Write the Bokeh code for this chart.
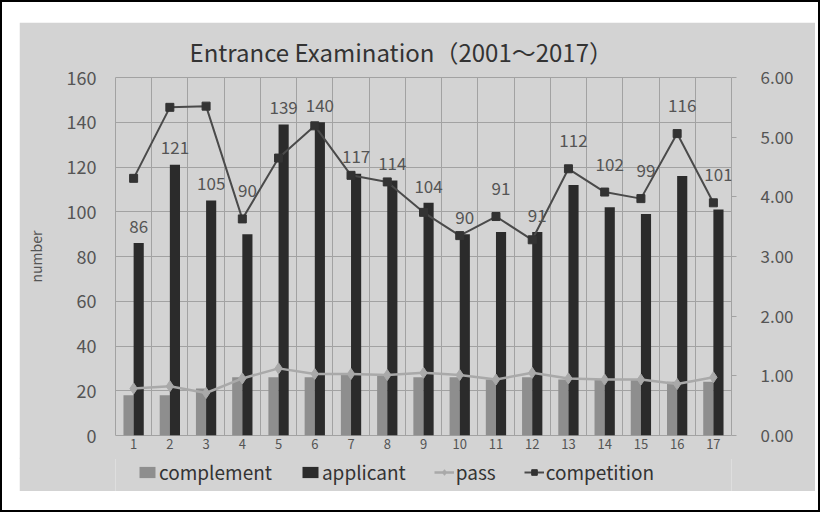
from bokeh.plotting import figure
from bokeh.models import (Range1d, LinearAxis, FixedTicker, Legend, LegendItem,
                          ColumnDataSource, NumeralTickFormatter)
from bokeh.layouts import column
from bokeh.core.properties import value
from bokeh.transform import dodge
from bokeh.embed import file_html
from bokeh.resources import INLINE

# ---------------- data ----------------
categories = [1, 2, 3, 4, 5, 6, 7, 8, 9, 10, 11, 12, 13, 14, 15, 16, 17]
tick_labels = ["1", "2", "3", "4", "5", "6", "7", "8", "9", "10", "11", "12",
               "13", "14", "15", "16", "17"]
complement = [18, 18, 21, 26, 26, 26, 27, 27, 26, 26, 25, 26, 25, 25, 25, 24, 24]
applicant = [86, 121, 105, 90, 139, 140, 117, 114, 104, 90, 91, 91, 112, 102, 99, 116, 101]
passed = [21, 22, 19, 25.5, 30, 27.5, 27.5, 27, 28, 27, 25, 28, 25.5, 25, 25, 23, 26]
competition = [4.31, 5.50, 5.52, 3.63, 4.65, 5.19, 4.36, 4.25, 3.74, 3.35, 3.67,
               3.28, 4.47, 4.08, 3.97, 5.06, 3.90]
series_names = ["complement", "applicant", "pass", "competition"]

LEFT_MAX, RIGHT_MAX = 160, 6

# label anchor: above the bar, or above the competition marker when it sits just above the bar
label_y = []
for a, c in zip(applicant, competition):
    cs = c * LEFT_MAX / RIGHT_MAX
    if a <= cs <= a + 20:
        label_y.append(cs + 12.5)
    else:
        label_y.append(a + 7.5)

src = ColumnDataSource(dict(x=categories, complement=complement, applicant=applicant,
                            passed=passed, competition=competition,
                            label_y=label_y, label=[str(v) for v in applicant]))

FONT = "Noto Sans CJK JP"
BG = "#d3d3d3"
GRID = "#a2a2a2"
TXT = "#555555"
C_COMP, C_APP, C_PASS, C_LINE, C_MARK = "#8e8e8e", "#2b2b2b", "#a9a9a9", "#4a4a4a", "#333333"

# ---------------- main chart ----------------
p = figure(width=796, height=437, output_backend="svg", toolbar_location=None,
           x_range=Range1d(0.5, 17.5), y_range=Range1d(0, LEFT_MAX),
           min_border_left=96, min_border_right=84, min_border_top=54,
           min_border_bottom=24)
p.margin = (20, 3, 0, 17)
p.background_fill_color = BG
p.border_fill_color = BG
p.outline_line_color = GRID
p.outline_line_width = 1

p.title.text = "Entrance Examination（2001～2017）"
p.title.align = "left"
p.title.offset = 74
p.title.standoff = 18
p.title.text_font = FONT
p.title.text_font_size = "24px"
p.title.text_font_style = "normal"
p.title.text_color = "#333333"

p.extra_y_ranges = {"comp": Range1d(0, RIGHT_MAX)}

p.ygrid.grid_line_color = GRID
p.ygrid.grid_line_width = 1
p.xgrid.ticker = FixedTicker(ticks=[c - 0.5 for c in categories] + [categories[-1] + 0.5])
p.xgrid.grid_line_color = GRID
p.xgrid.grid_line_width = 1

p.vbar(x=dodge("x", -0.14, range=p.x_range), top="complement", width=0.28,
       source=src, fill_color=C_COMP, line_color=None)
p.vbar(x=dodge("x", 0.14, range=p.x_range), top="applicant", width=0.28,
       source=src, fill_color=C_APP, line_color=None)

p.line("x", "passed", source=src, line_color=C_PASS, line_width=2.5)
p.scatter("x", "passed", source=src, marker="diamond", size=11,
          fill_color=C_PASS, line_color=C_PASS)

p.line("x", "competition", source=src, y_range_name="comp",
       line_color=C_LINE, line_width=2)
p.scatter("x", "competition", source=src, y_range_name="comp", marker="square",
          size=8, fill_color=C_MARK, line_color=C_MARK)

p.text(x=dodge("x", 0.14, range=p.x_range), y="label_y", text="label", source=src,
       text_font=value(FONT), text_font_size="17px", text_color=TXT,
       text_align="center", text_baseline="middle")

yl = p.yaxis[0]
yl.ticker = FixedTicker(ticks=[0, 20, 40, 60, 80, 100, 120, 140, 160])
yl.axis_label = "number"
yl.axis_label_text_font = FONT
yl.axis_label_text_font_size = "14px"
yl.axis_label_text_font_style = "normal"
yl.axis_label_text_color = TXT
yl.axis_label_standoff = 18
yl.major_label_text_font = FONT
yl.major_label_text_font_size = "18px"
yl.major_label_text_color = TXT
yl.major_label_standoff = 19
yl.major_tick_out = 0
yl.major_tick_in = 0
yl.axis_line_color = None
yl.major_tick_line_color = None
yl.minor_tick_line_color = None

yr = LinearAxis(y_range_name="comp", ticker=FixedTicker(ticks=[0, 1, 2, 3, 4, 5, 6]),
                formatter=NumeralTickFormatter(format="0.00"))
yr.major_label_text_font = FONT
yr.major_label_text_font_size = "17px"
yr.major_label_text_color = TXT
yr.major_label_standoff = 24
yr.axis_line_color = None
yr.major_tick_line_color = GRID
yr.major_tick_out = 5
yr.major_tick_in = 0
yr.minor_tick_line_color = None
p.add_layout(yr, "right")

xa = p.xaxis[0]
xa.ticker = FixedTicker(ticks=categories)
xa.major_label_overrides = {c: t for c, t in zip(categories, tick_labels)}
xa.major_label_text_font = FONT
xa.major_label_text_font_size = "13px"
xa.major_label_text_color = TXT
xa.major_label_standoff = 3
xa.major_tick_out = 0
xa.major_tick_in = 0
xa.axis_line_color = None
xa.major_tick_line_color = None
xa.minor_tick_line_color = None

# ---------------- legend strip ----------------
lg = figure(width=796, height=34, output_backend="svg", toolbar_location=None,
            x_range=Range1d(0, 1), y_range=Range1d(0, 1),
            x_axis_location=None, y_axis_location=None, min_border=0)
lg.title = None
lg.margin = (-2, 3, 19, 17)
lg.background_fill_color = BG
lg.border_fill_color = BG
lg.outline_line_color = None
lg.grid.visible = False

# swatch-only renderers, placed outside the visible range of the strip
k_comp = lg.vbar(x=[-5], top=[-5], width=0.1, fill_color=C_COMP, line_color=None)
k_app = lg.vbar(x=[-5], top=[-5], width=0.1, fill_color=C_APP, line_color=None)
k_pl = lg.line(x=[-5, -4], y=[-5, -5], line_color=C_PASS, line_width=2.5)
k_pm = lg.scatter(x=[-5], y=[-5], marker="diamond", size=11, fill_color=C_PASS, line_color=C_PASS)
k_cl = lg.line(x=[-5, -4], y=[-5, -5], line_color=C_LINE, line_width=2)
k_cm = lg.scatter(x=[-5], y=[-5], marker="square", size=8, fill_color=C_MARK, line_color=C_MARK)

legend = Legend(items=[
    LegendItem(label=series_names[0], renderers=[k_comp]),
    LegendItem(label=series_names[1], renderers=[k_app]),
    LegendItem(label=series_names[2], renderers=[k_pl, k_pm]),
    LegendItem(label=series_names[3], renderers=[k_cl, k_cm]),
], orientation="horizontal", location=(22, 6))
legend.label_text_font = FONT
legend.label_text_font_size = "19px"
legend.label_text_color = "#333333"
legend.glyph_width = 20
legend.glyph_height = 14
legend.label_standoff = 2
legend.spacing = 28
legend.padding = 0
legend.margin = 0
legend.background_fill_alpha = 0
legend.border_line_alpha = 0
lg.add_layout(legend)

layout = column(p, lg, spacing=0,
                styles={"border": "2px solid #000000", "background": "#ffffff"})

open("out.html", "w").write(file_html(layout, INLINE))
